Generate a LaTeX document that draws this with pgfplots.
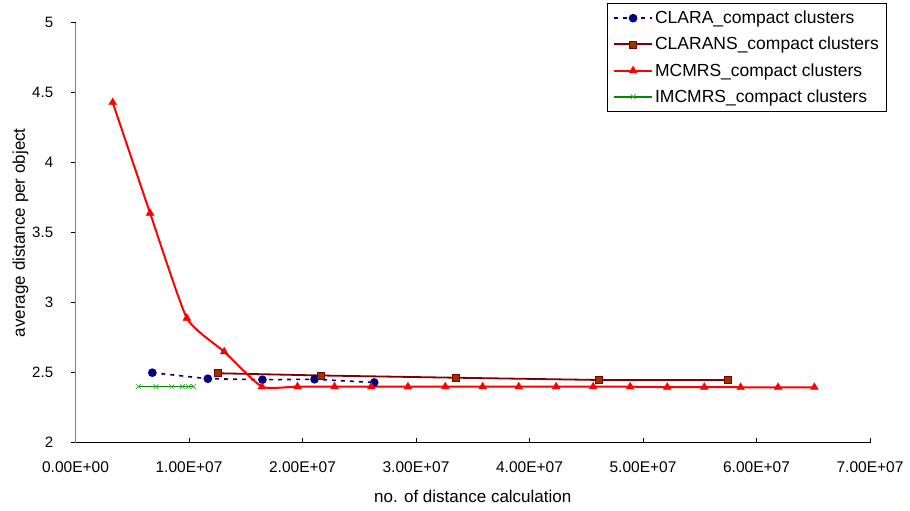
\documentclass[border=0pt]{standalone}
\usepackage{fontspec}
\setmainfont{Liberation Sans}
\usepackage{pgfplots}
\pgfplotsset{compat=1.18}
\definecolor{clara}{RGB}{0,0,128}
\definecolor{clarans}{RGB}{128,0,0}
\definecolor{claransfill}{RGB}{153,51,0}
\definecolor{mcmrs}{RGB}{255,0,0}
\definecolor{imc}{RGB}{0,140,0}
\begin{document}
\begin{tikzpicture}
\begin{axis}[
  scale only axis,
  width=794.5pt, height=420pt,
  xmin=0, xmax=7e7, ymin=2, ymax=5,
  axis lines*=left,
  scaled x ticks=false,
  x axis line style={draw=black, line width=0.8pt},
  y axis line style={draw=gray, line width=1.2pt},
  xtick={0,1e7,2e7,3e7,4e7,5e7,6e7,7e7},
  xticklabels={0.00E+00,1.00E+07,2.00E+07,3.00E+07,4.00E+07,5.00E+07,6.00E+07,7.00E+07},
  ytick={2,2.5,3,3.5,4,4.5,5},
  tick align=inside,
  major tick length=5pt,
  tick style={black, line width=0.6pt},
  major y tick style={xshift=-5pt},
  /pgf/number format/assume math mode=true,
  xticklabel style={font=\fontsize{15.5}{18}\selectfont, inner sep=0pt, anchor=north, yshift=-19pt},
  yticklabel style={font=\fontsize{15}{18}\selectfont, inner sep=0pt, anchor=east, xshift=-22.2pt},
  xlabel={no. of distance calculation},
  ylabel={average distance per object},
  xlabel style={font=\fontsize{17}{20}\selectfont, at={(axis description cs:0.5,0)}, anchor=center, yshift=-54pt},
  ylabel style={font=\fontsize{17}{20}\selectfont, at={(axis description cs:-0.0692,0.5)}, anchor=center},
  legend style={at={(0.6686,1.0476)}, anchor=north west, draw=black, line width=0.8pt,
    font=\fontsize{17.5}{20}\selectfont, row sep=8pt, inner xsep=6pt, inner ysep=6pt},
  legend cell align=left,
  legend image code/.code={\draw[mark repeat=2,mark phase=2] plot coordinates {(0pt,0pt) (19pt,0pt) (38pt,0pt)};},
]
\addplot[clara, line width=1.6pt, dash pattern=on 4pt off 5pt, mark=*, mark size=3.5pt, mark options={solid, fill=clara, draw=clara}]
 coordinates {(0.677e7,2.50) (1.166e7,2.457) (1.647e7,2.45) (2.106e7,2.453) (2.632e7,2.43)};
\addlegendentry{CLARA\_compact clusters}
\addplot[clarans, line width=1.8pt, mark=square*, mark size=3.5pt, mark options={fill=claransfill, draw=clarans, line width=0.6pt}]
 coordinates {(1.254e7,2.496) (2.165e7,2.48) (3.353e7,2.464) (4.61e7,2.448) (5.748e7,2.448)};
\addlegendentry{CLARANS\_compact clusters}
\addplot[mcmrs, line width=2pt, smooth, tension=0.3, mark=triangle*, mark size=4.5pt, mark options={fill=mcmrs, draw=mcmrs, line width=0.4pt}]
 coordinates {(0.328e7,4.43) (0.657e7,3.64) (0.981e7,2.89) (1.31e7,2.65) (1.642e7,2.40) (1.956e7,2.401)
 (2.282e7,2.40) (2.606e7,2.40) (2.929e7,2.40) (3.258e7,2.40) (3.587e7,2.40) (3.905e7,2.40) (4.235e7,2.40)
 (4.561e7,2.40) (4.887e7,2.40) (5.213e7,2.397) (5.54e7,2.397) (5.86e7,2.396) (6.19e7,2.396) (6.51e7,2.396)};
\addlegendentry{MCMRS\_compact clusters}
\addplot[imc, line width=1.6pt, mark=x, mark size=3.5pt, mark options={draw=imc!80, line width=0.6pt}]
 coordinates {(0.554e7,2.40) (0.710e7,2.40) (0.848e7,2.40) (0.942e7,2.40) (0.995e7,2.40) (1.04e7,2.40)};
\addlegendentry{IMCMRS\_compact clusters}
\end{axis}
\pgfresetboundingbox
\path (-75.5pt,-68.3pt) rectangle (834.5pt,442.7pt);
\end{tikzpicture}
\end{document}
